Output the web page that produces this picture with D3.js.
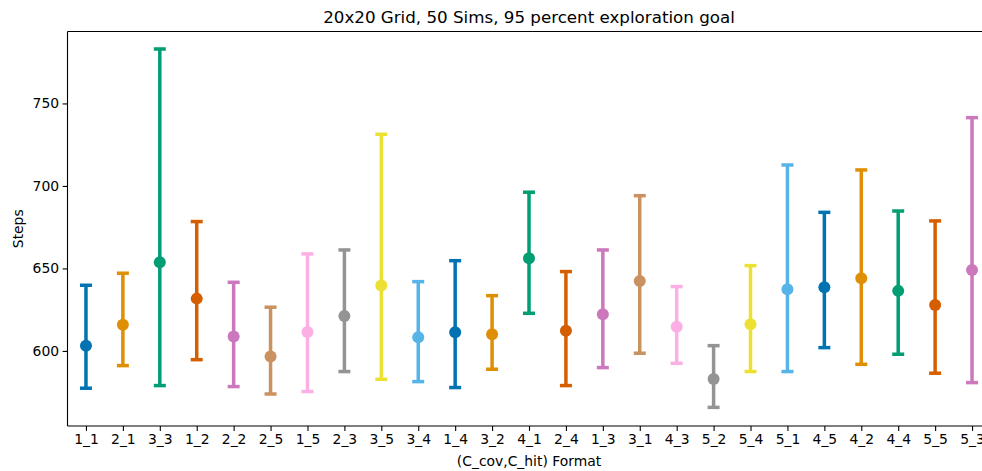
<!DOCTYPE html>
<html>
<head>
<meta charset="utf-8">
<script src="https://cdn.jsdelivr.net/npm/d3@7"></script>
<style>
  body { margin: 0; background: #fff; }
  svg text { font-family: "DejaVu Sans", sans-serif; fill: #000; }
</style>
</head>
<body>
<div id="chart"></div>
<script>
// Categories in plotted order
const categories = ["1_1", "2_1", "3_3", "1_2", "2_2", "2_5", "1_5", "2_3", "3_5", "3_4",
  "1_4", "3_2", "4_1", "2_4", "1_3", "3_1", "4_3", "5_2", "5_4", "5_1",
  "4_5", "4_2", "4_4", "5_5", "5_3"];

// mean steps and the confidence interval bounds
const means = [603.2, 615.8, 653.8, 631.7, 608.7, 596.6, 611.5, 621.2, 639.6, 608.3,
  611.3, 610.1, 656.2, 612.3, 622.2, 642.4, 614.7, 583.0, 616.1, 637.4,
  638.6, 644.0, 636.4, 627.9, 649.1];
const lows = [577.4, 591.1, 579.0, 594.7, 578.4, 573.9, 575.4, 587.5, 582.8, 581.4,
  577.8, 588.9, 622.8, 579.0, 589.9, 598.6, 592.5, 565.8, 587.5, 587.5,
  602.0, 591.9, 598.0, 586.5, 580.8];
const highs = [639.8, 647.1, 783.0, 678.4, 641.6, 626.5, 658.8, 661.2, 731.3, 642.0,
  654.7, 633.5, 696.2, 648.1, 661.2, 694.1, 639.0, 603.2, 651.7, 712.7,
  684.0, 709.7, 684.8, 678.8, 741.4];

const yTicks = [600, 650, 700, 750];
const palette = ["#0173b2", "#de8f05", "#029e73", "#d55e00", "#cc78bc",
  "#ca9161", "#fbafe4", "#949494", "#ece133", "#56b4e9"];

const width = 982, height = 471;
const m = { left: 67.5, right: 990.5, top: 31.5, bottom: 426 };

const svg = d3.select("#chart").append("svg")
  .attr("width", width)
  .attr("height", height);

const x = d3.scalePoint()
  .domain(categories)
  .range([m.left, m.right])
  .padding(0.5);

const y = d3.scaleLinear()
  .domain([554.5, 793.6])
  .range([m.bottom, m.top]);

// error bars
const g = svg.append("g");
categories.forEach((c, i) => {
  const col = palette[i % palette.length];
  const cx = x(c);
  g.append("line")
    .attr("x1", cx).attr("x2", cx)
    .attr("y1", y(lows[i])).attr("y2", y(highs[i]))
    .attr("stroke", col).attr("stroke-width", 3.5);
  [lows[i], highs[i]].forEach(v => {
    g.append("line")
      .attr("x1", cx - 6).attr("x2", cx + 6)
      .attr("y1", y(v)).attr("y2", y(v))
      .attr("stroke", col).attr("stroke-width", 3.5);
  });
  g.append("circle")
    .attr("cx", cx).attr("cy", y(means[i]))
    .attr("r", 6)
    .attr("fill", col);
});

// axes
const xAxis = svg.append("g")
  .attr("transform", `translate(0,${m.bottom})`)
  .call(d3.axisBottom(x).tickSizeOuter(0).tickSize(4.9).tickPadding(3.5));
xAxis.select(".domain").remove();
xAxis.selectAll("text").attr("font-size", 13.9);
xAxis.selectAll("line").attr("stroke-width", 1.1);

const yAxis = svg.append("g")
  .attr("transform", `translate(${m.left},0)`)
  .call(d3.axisLeft(y).tickValues(yTicks).tickSize(4.9).tickPadding(3.5));
yAxis.select(".domain").remove();
yAxis.selectAll("text").attr("font-size", 13.9);
yAxis.selectAll("line").attr("stroke-width", 1.1);

// spines (right spine sits outside the picture)
const spine = svg.append("g").attr("stroke", "#000").attr("stroke-width", 1.1);
spine.append("line").attr("x1", m.left).attr("x2", m.left).attr("y1", m.top).attr("y2", m.bottom);
spine.append("line").attr("x1", m.left).attr("x2", m.right).attr("y1", m.top).attr("y2", m.top);
spine.append("line").attr("x1", m.left).attr("x2", m.right).attr("y1", m.bottom).attr("y2", m.bottom);

// labels
svg.append("text")
  .attr("x", (m.left + m.right) / 2).attr("y", 23)
  .attr("text-anchor", "middle")
  .attr("font-size", 16.7)
  .text("20x20 Grid, 50 Sims, 95 percent exploration goal");

svg.append("text")
  .attr("x", (m.left + m.right) / 2).attr("y", 466)
  .attr("text-anchor", "middle")
  .attr("font-size", 13.9)
  .text("(C_cov,C_hit) Format");

svg.append("text")
  .attr("transform", `translate(23,${(m.top + m.bottom) / 2}) rotate(-90)`)
  .attr("text-anchor", "middle")
  .attr("font-size", 13.9)
  .text("Steps");
</script>
</body>
</html>
